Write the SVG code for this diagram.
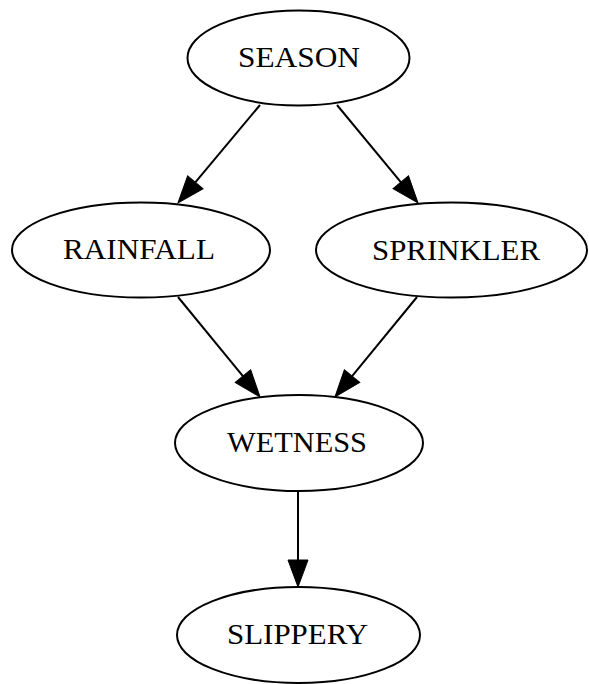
<svg xmlns="http://www.w3.org/2000/svg" width="589" height="684" viewBox="0 0 589 684">
<style>
.n ellipse{fill:#fff;stroke:#000;stroke-width:2}
.n text{font-family:"Liberation Serif","Times New Roman",serif;font-size:30px;fill:#000;text-anchor:middle}
.e line{stroke:#000;stroke-width:2;marker-end:url(#ah)}
</style>
<defs>
<marker id="ah" markerUnits="userSpaceOnUse" markerWidth="28" markerHeight="20" refX="0" refY="10" orient="auto" overflow="visible">
<path d="M0,0 L27,10 L0,20 z" fill="#000" stroke="#000" stroke-width="1"/>
</marker>
</defs>
<rect width="589" height="684" fill="#fff"/>
<g id="edges" class="e">
<line x1="260" y1="105" x2="195.3" y2="182.3"/>
<line x1="337" y1="105" x2="400.8" y2="182.2"/>
<line x1="178" y1="297" x2="242.9" y2="376.1"/>
<line x1="417" y1="297" x2="352.1" y2="376.1"/>
<line x1="298" y1="491" x2="298" y2="560"/>
</g>
<g id="season" class="n"><ellipse cx="298.5" cy="58" rx="111" ry="47.5"/><text x="299" y="67" textLength="122" lengthAdjust="spacingAndGlyphs">SEASON</text></g>
<g id="rainfall" class="n"><ellipse cx="141" cy="250" rx="129" ry="47.5"/><text x="139" y="259" textLength="152" lengthAdjust="spacingAndGlyphs">RAINFALL</text></g>
<g id="sprinkler" class="n"><ellipse cx="451.5" cy="250" rx="135.5" ry="47.5"/><text x="456" y="260" textLength="168" lengthAdjust="spacingAndGlyphs">SPRINKLER</text></g>
<g id="wetness" class="n"><ellipse cx="299" cy="443" rx="124" ry="48"/><text x="297" y="452" textLength="140" lengthAdjust="spacingAndGlyphs">WETNESS</text></g>
<g id="slippery" class="n"><ellipse cx="298.5" cy="635" rx="121.5" ry="48"/><text x="297.5" y="644" textLength="141" lengthAdjust="spacingAndGlyphs">SLIPPERY</text></g>
</svg>
